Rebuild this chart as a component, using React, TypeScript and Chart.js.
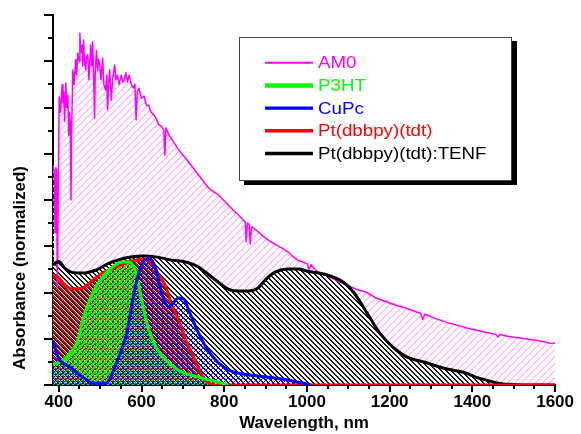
import React, { useEffect, useRef } from "react";
import { Chart, registerables } from "chart.js";

Chart.register(...registerables);

// ---------- data ----------
const xTickLabels = [400, 600, 800, 1000, 1200, 1400, 1600];
const legendLabels = ["AM0", "P3HT", "CuPc", "Pt(dbbpy)(tdt)", "Pt(dbbpy)(tdt):TENF"];
const xAxisTitle = "Wavelength, nm";
const yAxisTitle = "Absorbance (normalized)";

const am0Wl = [
  386, 389, 391, 393, 395, 396.5, 398.5, 401, 404, 408,
  410, 412, 414, 417, 419, 422, 424, 426, 428, 429.5,
  431, 434, 437, 441, 443, 446, 449, 451, 453, 456,
  458, 460, 462, 465, 467, 470, 473, 477, 480, 482,
  484, 486.5, 488, 491, 494, 496, 499, 502, 506, 509,
  513, 516, 518, 521, 523, 525, 527, 530, 535, 538,
  542, 546, 551, 555, 558, 562, 566, 570, 575, 580,
  584, 587, 590, 594, 600, 606, 612, 617, 623, 630,
  636, 642, 648, 654, 656.5, 659, 666, 678, 690, 702,
  714, 726, 738, 750, 762, 774, 786, 798, 810, 822,
  834, 845, 851, 853, 856, 860, 863, 866, 870, 882,
  894, 906, 918, 930, 942, 954, 966, 978, 990, 1001,
  1005, 1010, 1025, 1049, 1073, 1097, 1120, 1145, 1169, 1193,
  1217, 1241, 1265, 1275, 1280, 1285, 1310, 1336, 1360, 1384,
  1408, 1432, 1456, 1462, 1466, 1488, 1520, 1552, 1576, 1590,
  1600,
];
const am0Val = [
  4.76, 4.62, 3.3, 4.7, 4.6, 2.1, 4.0, 6.23, 5.9, 6.49,
  6.1, 6.35, 5.7, 6.53, 6.0, 6.27, 5.4, 5.9, 5.62, 4.0,
  5.5, 6.81, 6.5, 7.03, 6.7, 7.18, 7.0, 7.61, 7.2, 7.35,
  6.9, 7.46, 7.0, 6.81, 7.1, 7.14, 6.6, 7.35, 6.9, 7.42,
  6.8, 5.77, 6.7, 7.24, 6.8, 7.05, 6.92, 6.6, 7.07, 6.5,
  6.38, 6.7, 5.95, 6.6, 6.81, 6.5, 6.16, 6.6, 6.92, 6.6,
  6.7, 6.5, 6.7, 6.55, 6.59, 6.75, 6.55, 6.7, 6.5, 6.42,
  6.5, 5.73, 6.35, 6.42, 6.2, 6.25, 6.05, 6.05, 5.9, 5.84,
  5.75, 5.62, 5.6, 5.5, 4.97, 5.56, 5.41, 5.25, 5.08, 4.95,
  4.82, 4.68, 4.54, 4.4, 4.26, 4.18, 4.11, 4.0, 3.89, 3.78,
  3.68, 3.58, 3.52, 3.1, 3.5, 3.48, 3.05, 3.42, 3.4, 3.31,
  3.22, 3.14, 3.07, 3.01, 2.95, 2.88, 2.78, 2.7, 2.66, 2.62,
  2.5, 2.6, 2.45, 2.36, 2.25, 2.16, 2.07, 2.0, 1.87, 1.8,
  1.72, 1.66, 1.58, 1.55, 1.42, 1.53, 1.44, 1.36, 1.3, 1.24,
  1.19, 1.14, 1.1, 1.04, 1.09, 1.05, 1.01, 0.97, 0.93, 0.9,
  0.91,
];

const p3htWl = [386, 403, 420, 446, 458, 482, 506, 530, 554, 570, 587, 602, 618, 635, 659, 690, 738, 790, 810];
const p3htVal = [0.45, 0.5, 0.62, 0.97, 1.41, 1.99, 2.34, 2.55, 2.66, 2.66, 2.42, 1.77, 1.19, 0.82, 0.54, 0.32, 0.17, 0.05, 0];

const cupcWl = [386, 398, 427, 458, 482, 513, 542, 566, 580, 596, 611, 623, 635, 650, 666, 690, 702, 714, 738, 760, 786, 817, 858, 906, 954, 978, 1001, 1010];
const cupcVal = [0.97, 0.61, 0.39, 0.17, 0.04, 0.04, 0.54, 1.19, 1.9, 2.49, 2.72, 2.72, 2.49, 1.95, 1.69, 1.88, 1.86, 1.62, 1.12, 0.76, 0.48, 0.3, 0.22, 0.17, 0.11, 0.06, 0.02, 0];

const ptWl = [386, 398, 410, 430, 458, 480, 506, 542, 575, 602, 625, 642, 659, 673, 690, 707, 730, 745, 760, 775, 1600];
const ptVal = [2.38, 2.34, 2.21, 2.08, 2.1, 2.25, 2.42, 2.57, 2.68, 2.72, 2.62, 2.38, 2.12, 1.73, 1.41, 0.97, 0.54, 0.22, 0.06, 0, 0];

const tenfWl = [386, 400, 415, 434, 458, 491, 523, 563, 602, 635, 673, 707, 738, 779, 817, 858, 882, 899, 923, 954, 978, 1001, 1049, 1090, 1114, 1145, 1176, 1210, 1241, 1289, 1336, 1384, 1408, 1432, 1463, 1497, 1520, 1600];
const tenfVal = [2.6, 2.67, 2.52, 2.43, 2.42, 2.49, 2.64, 2.75, 2.79, 2.77, 2.7, 2.66, 2.55, 2.27, 2.05, 2.03, 2.1, 2.27, 2.44, 2.51, 2.51, 2.46, 2.38, 2.21, 1.99, 1.56, 1.12, 0.8, 0.61, 0.48, 0.35, 0.26, 0.17, 0.11, 0.04, 0.01, 0, 0];

const seriesColors = ["#ff00ff", "#00ff00", "#0000ff", "#ff0000", "#000000"];

// ---------- helpers ----------
const FONT = '"Liberation Sans", Arial, Helvetica, sans-serif';

function pts(xs: number[], ys: number[]) {
  return xs.map((x, i) => ({ x, y: ys[i] }));
}

// pixel-exact diagonal hatch: "fwd" = "/", "back" = "\"
function hatch(p: number, color: string, w: number, dirs: string[], offset = 0, bg?: string) {
  const c = document.createElement("canvas");
  c.width = p;
  c.height = p;
  const g = c.getContext("2d")!;
  if (bg) {
    g.fillStyle = bg;
    g.fillRect(0, 0, p, p);
  }
  g.fillStyle = color;
  for (let i = 0; i < p; i++) {
    for (let j = 0; j < p; j++) {
      for (const d of dirs) {
        const k = d === "back" ? i - j : i + j;
        const m = (((k - offset) % p) + p) % p;
        if (m < w) {
          g.fillRect(i, j, 1, 1);
          break;
        }
      }
    }
  }
  return g.createPattern(c, "repeat")!;
}

const decorPlugin = {
  id: "decor",
  afterDraw(chart: any) {
    const { ctx, chartArea, scales } = chart;
    const x = scales.x;
    const y = scales.y;
    ctx.save();
    ctx.strokeStyle = "#000";
    ctx.lineWidth = 2;
    // x ticks (major + minor)
    for (let v = xTickLabels[0]; v <= xTickLabels[xTickLabels.length - 1]; v += 50) {
      const px = Math.round(x.getPixelForValue(v));
      const len = v % 200 === 0 ? 7 : 4;
      ctx.beginPath();
      ctx.moveTo(px, chartArea.bottom);
      ctx.lineTo(px, chartArea.bottom + len);
      ctx.stroke();
    }
    // y ticks
    for (let v = 0; v <= 8; v += 0.5) {
      const py = Math.round(y.getPixelForValue(v));
      const len = v % 1 === 0 ? 9 : 5;
      ctx.beginPath();
      ctx.moveTo(chartArea.left - len, py);
      ctx.lineTo(chartArea.left, py);
      ctx.stroke();
    }
    // y title
    ctx.save();
    ctx.fillStyle = "#000";
    ctx.font = `bold 17px ${FONT}`;
    ctx.translate(25, 268);
    ctx.rotate(-Math.PI / 2);
    ctx.textAlign = "center";
    ctx.textBaseline = "alphabetic";
    ctx.fillText(yAxisTitle, 0, 0);
    ctx.restore();

    // legend box
    const bx = 239, by = 37, bw = 273, bh = 144;
    ctx.fillStyle = "#000";
    ctx.fillRect(bx + 5, by + 4, bw, bh);
    ctx.fillStyle = "#fff";
    ctx.fillRect(bx, by, bw, bh);
    ctx.strokeStyle = "#444";
    ctx.lineWidth = 1;
    ctx.strokeRect(bx + 0.5, by + 0.5, bw - 1, bh - 1);
    const widths = [2, 4.5, 3.2, 3.4, 3.4];
    legendLabels.forEach((lab, i) => {
      const cy = 62.7 + i * 22.7;
      ctx.strokeStyle = seriesColors[i];
      ctx.lineWidth = widths[i];
      ctx.beginPath();
      ctx.moveTo(265, cy);
      ctx.lineTo(313, cy);
      ctx.stroke();
      ctx.save();
      ctx.fillStyle = seriesColors[i];
      ctx.font = `16px ${FONT}`;
      ctx.textBaseline = "middle";
      ctx.translate(318, cy + 1);
      ctx.scale(1.17, 1);
      ctx.fillText(lab, 0, 0);
      ctx.restore();
    });
    ctx.restore();
  },
};

export default function App() {
  const ref = useRef<HTMLCanvasElement>(null);
  useEffect(() => {
    document.body.style.margin = "0";
    const pAM0 = hatch(7, "#ffbcff", 2, ["fwd"]);
    const pTenf = hatch(5, "#1a1a1a", 2, ["back"], 0, "#ffffff");
    const pPt = hatch(5, "#ff0000", 2, ["back"], 2);
    const pP3ht = hatch(5, "#00ff00", 3, ["fwd"]);
    const pCupc = hatch(5, "#0000ff", 1, ["fwd", "back"]);

    const common = { pointRadius: 0, fill: "origin", borderJoinStyle: "round" as const };
    const chart = new Chart(ref.current!, {
      type: "line",
      data: {
        datasets: [
          { ...common, label: legendLabels[0], data: pts(am0Wl, am0Val), borderColor: seriesColors[0], borderWidth: 1.5, backgroundColor: pAM0, tension: 0, order: 4 },
          { ...common, label: legendLabels[1], data: pts(p3htWl, p3htVal), borderColor: seriesColors[1], borderWidth: 3, backgroundColor: pP3ht, cubicInterpolationMode: "monotone", order: 1 },
          { ...common, label: legendLabels[2], data: pts(cupcWl, cupcVal), borderColor: seriesColors[2], borderWidth: 3, backgroundColor: pCupc, cubicInterpolationMode: "monotone", order: 0 },
          { ...common, label: legendLabels[3], data: pts(ptWl, ptVal), borderColor: seriesColors[3], borderWidth: 3, backgroundColor: pPt, cubicInterpolationMode: "monotone", order: 2 },
          { ...common, label: legendLabels[4], data: pts(tenfWl, tenfVal), borderColor: seriesColors[4], borderWidth: 3, backgroundColor: pTenf, cubicInterpolationMode: "monotone", order: 3 },
        ] as any,
      },
      options: {
        responsive: false,
        animation: false,
        devicePixelRatio: 1,
        layout: { padding: { top: 15, right: 21, left: 0, bottom: 0 } },
        plugins: {
          legend: { display: false },
          tooltip: { enabled: false },
          filler: { drawTime: "beforeDatasetsDraw" },
        } as any,
        scales: {
          x: {
            type: "linear",
            min: 386,
            max: 1600,
            grid: { display: false, drawTicks: false },
            border: { display: true, color: "#000", width: 2 },
            afterBuildTicks: (s: any) => {
              s.ticks = xTickLabels.map((v) => ({ value: v }));
            },
            afterFit: (s: any) => {
              s.height = 49;
            },
            ticks: {
              autoSkip: false,
              maxRotation: 0,
              padding: 7,
              color: "#000",
              font: { family: FONT, size: 17, weight: "bold" },
              callback: (v: any) => String(v),
            },
            title: {
              display: true,
              text: xAxisTitle,
              color: "#000",
              padding: { top: 0, bottom: 0 },
              font: { family: FONT, size: 17, weight: "bold" },
            },
          },
          y: {
            type: "linear",
            min: 0,
            max: 8,
            grid: { display: false, drawTicks: false },
            border: { display: true, color: "#000", width: 2 },
            ticks: { display: false },
            afterFit: (s: any) => {
              s.width = 53;
            },
          },
        } as any,
      },
      plugins: [decorPlugin],
    });
    return () => chart.destroy();
  }, []);
  return (
    <div style={{ width: 581, height: 434 }}>
      <canvas ref={ref} width={581} height={434} style={{ display: "block" }} />
    </div>
  );
}
